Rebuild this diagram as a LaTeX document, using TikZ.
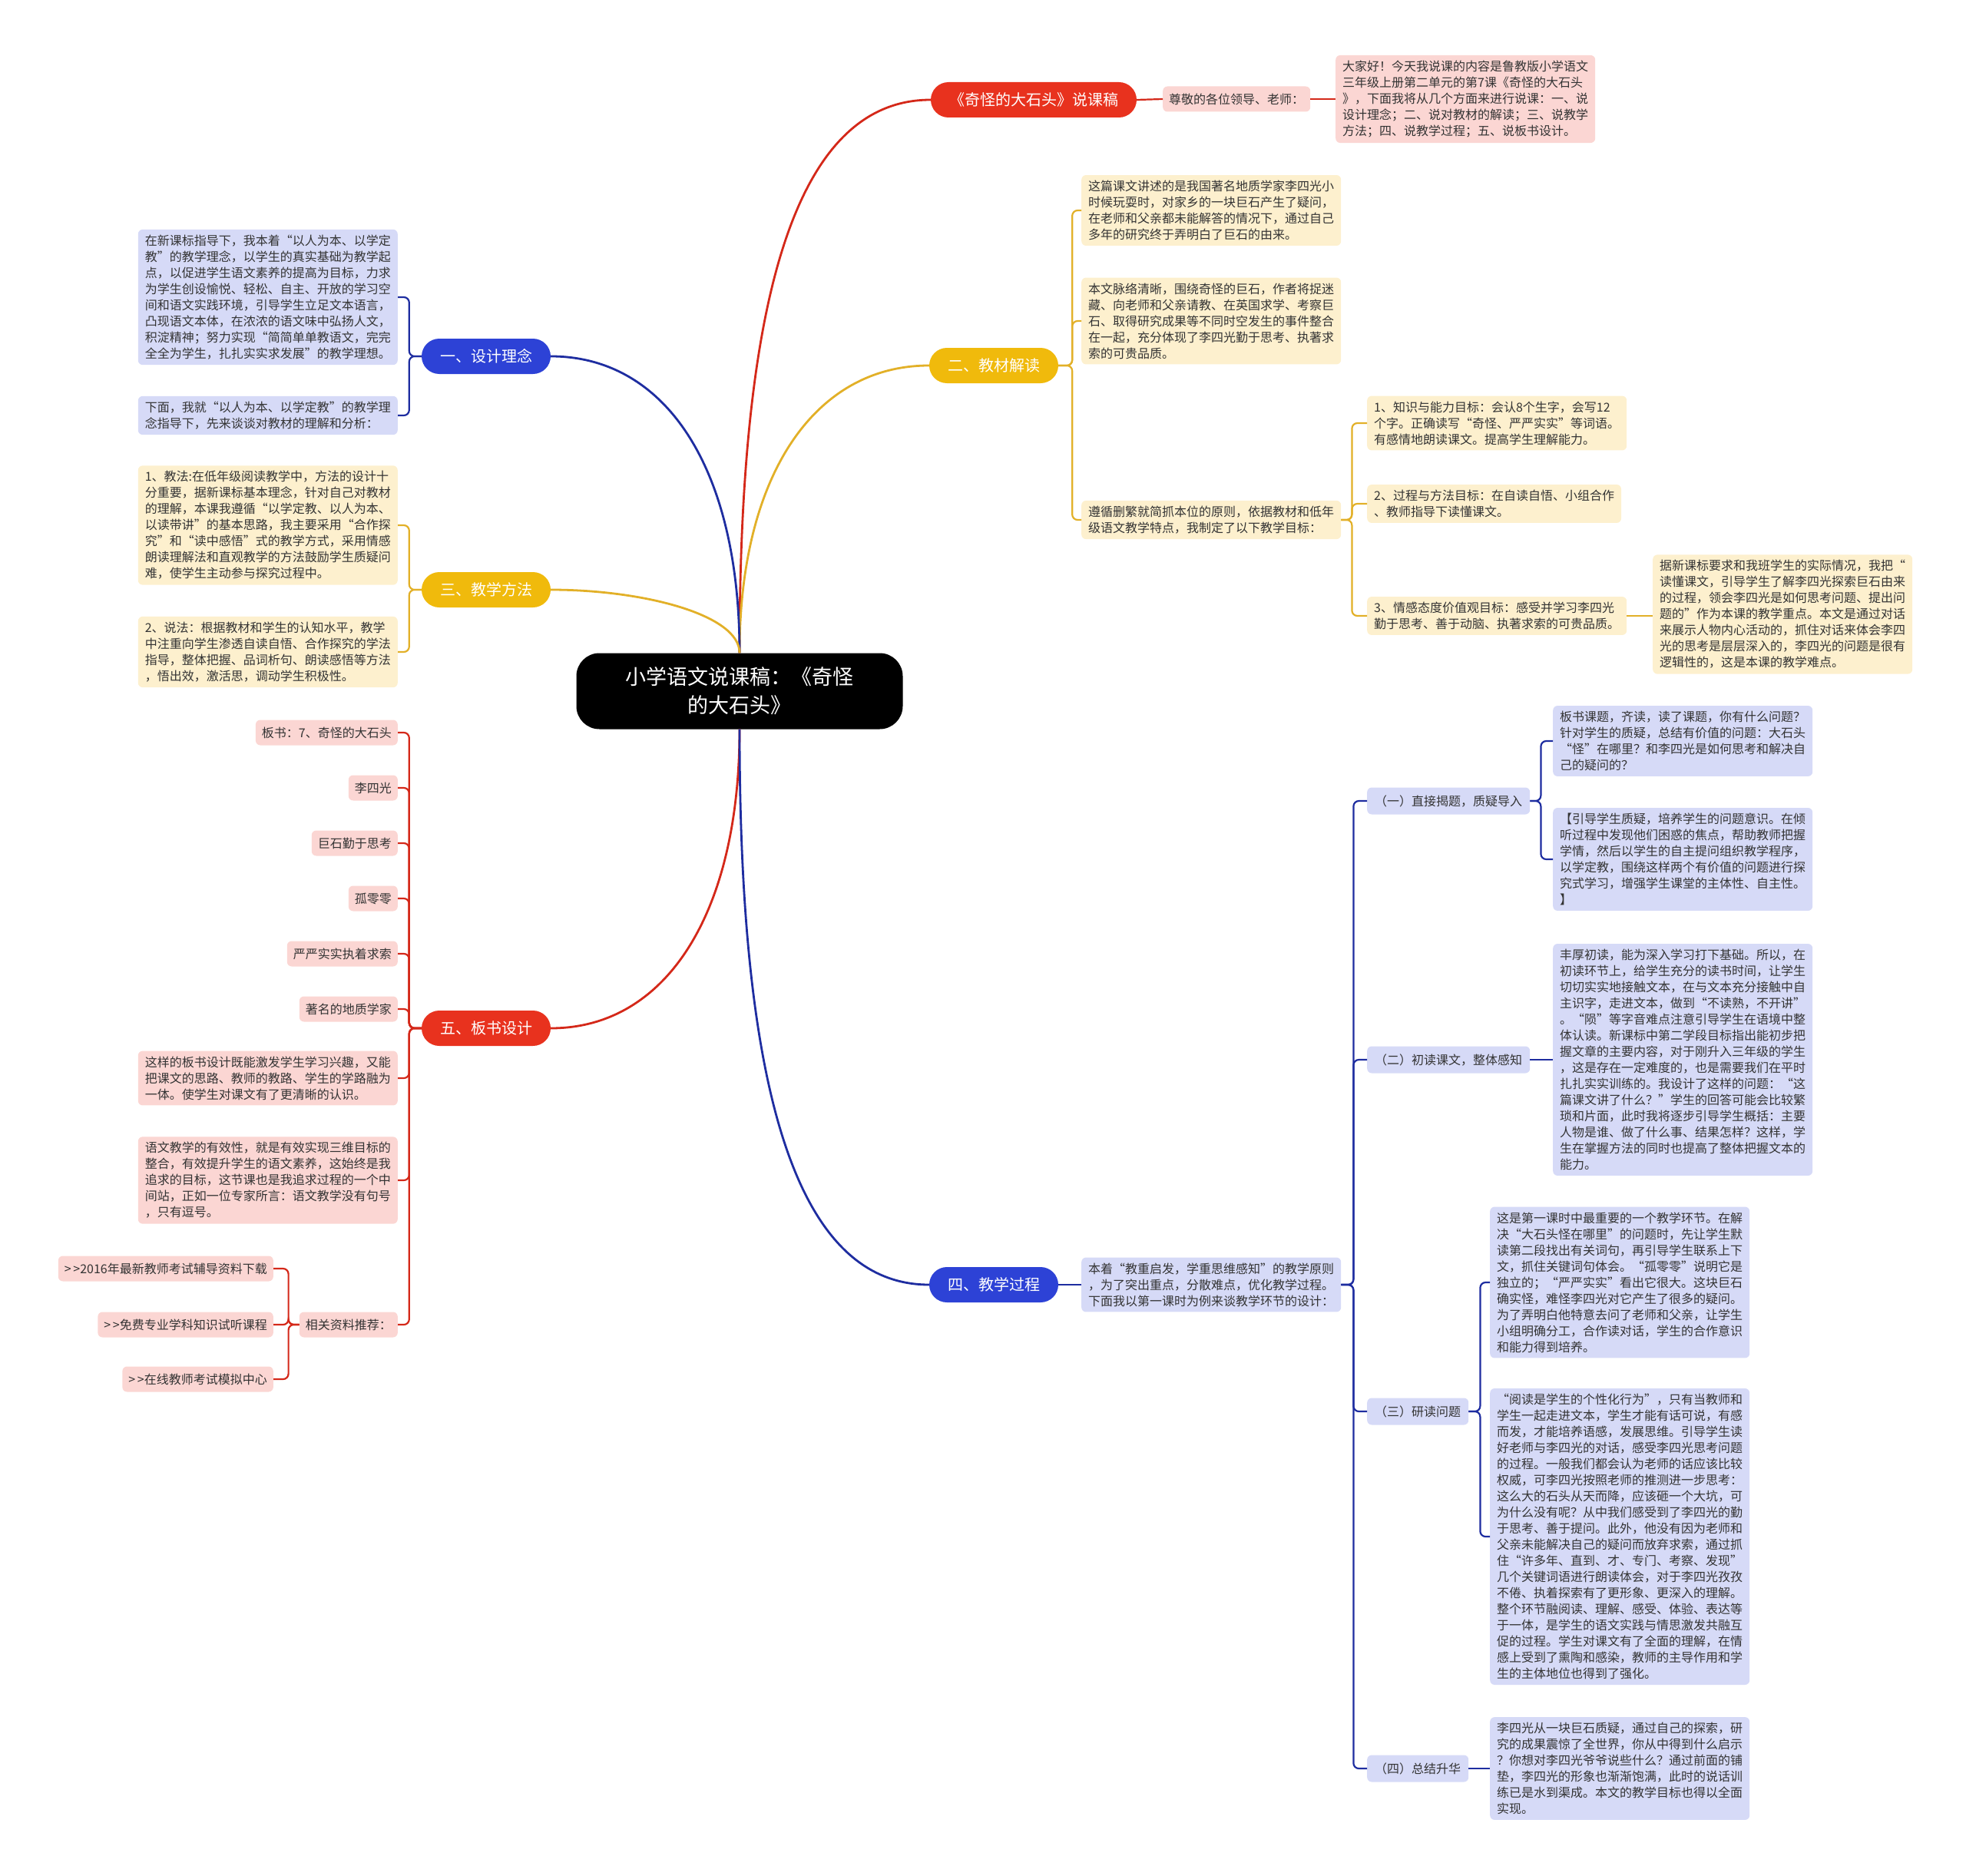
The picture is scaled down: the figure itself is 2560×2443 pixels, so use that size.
\documentclass[tikz,border=0pt]{standalone}
\usepackage{fontspec}
\setmainfont{Noto Sans CJK SC}
\usepackage{tikz}
\usetikzlibrary{positioning, calc}
\definecolor{mapred}{RGB}{232, 50, 30}
\definecolor{mapblue}{RGB}{45, 66, 214}
\definecolor{mapgold}{RGB}{240, 186, 12}
\definecolor{pinkfill}{RGB}{251, 214, 211}
\definecolor{bluefill}{RGB}{214, 218, 247}
\definecolor{goldfill}{RGB}{253, 240, 206}
\definecolor{redline}{RGB}{212, 40, 25}
\definecolor{blueline}{RGB}{30, 45, 160}
\definecolor{goldline}{RGB}{226, 176, 40}
\definecolor{inktext}{RGB}{51, 51, 51}

\begin{document}
\begin{tikzpicture}[x=1pt, y=1pt,
    box/.style={rounded corners=6pt, inner xsep=9pt, inner ysep=7pt, align=left,
                text=inktext, font=\fontsize{16}{21}\selectfont},
    pinkbox/.style={box, fill=pinkfill},
    bluebox/.style={box, fill=bluefill},
    goldbox/.style={box, fill=goldfill},
    branch/.style={rounded corners=23pt, minimum height=46pt, inner xsep=24pt,
                   text=white, font=\fontsize{20}{24}\selectfont},
    midnode/.style={box, fill=bluefill, minimum height=35pt, inner xsep=10pt},
    leafnode/.style={box, fill=pinkfill, minimum height=33pt, inner xsep=8pt},
    trunk/.style={line width=2.2pt, rounded corners=7pt},
    mainline/.style={line width=2.8pt}]
    \useasboundingbox (0,0) rectangle (2560,-2443);
    % Central topic
    \node[fill=black, text=white, rounded corners=30pt, minimum width=425pt,
          minimum height=99pt, align=center, font=\fontsize{27}{37}\selectfont]
          (root) at (963,-900) {小学语文说课稿：《奇怪\\的大石头》};

    % Title branch
    \node[branch, fill=mapred] (title) at (1346,-130) {《奇怪的大石头》说课稿};
    \node[leafnode, anchor=west] (greet) at (1514,-129) {尊敬的各位领导、老师：};
    \node[pinkbox, anchor=west] (intro) at (1739,-129)
        {大家好！今天我说课的内容是鲁教版小学语文\\
         三年级上册第二单元的第7课《奇怪的大石头\\
         》，下面我将从几个方面来进行说课：一、说\\
         设计理念；二、说对教材的解读；三、说教学\\
         方法；四、说教学过程；五、说板书设计。};

    % Branch two
    \node[branch, fill=mapgold] (jc) at (1294,-476) {二、教材解读};
    \node[goldbox, anchor=west] (jc1) at (1408,-274)
        {这篇课文讲述的是我国著名地质学家李四光小\\
         时候玩耍时，对家乡的一块巨石产生了疑问，\\
         在老师和父亲都未能解答的情况下，通过自己\\
         多年的研究终于弄明白了巨石的由来。};
    \node[goldbox, anchor=west] (jc2) at (1408,-418)
        {本文脉络清晰，围绕奇怪的巨石，作者将捉迷\\
         藏、向老师和父亲请教、在英国求学、考察巨\\
         石、取得研究成果等不同时空发生的事件整合\\
         在一起，充分体现了李四光勤于思考、执著求\\
         索的可贵品质。};
    \node[goldbox, anchor=west] (jc3) at (1408,-677)
        {遵循删繁就简抓本位的原则，依据教材和低年\\
         级语文教学特点，我制定了以下教学目标：};
    \node[goldbox, anchor=west] (mb1) at (1780,-551)
        {1、知识与能力目标：会认8个生字，会写12\\
         个字。正确读写“奇怪、严严实实”等词语。\\
         有感情地朗读课文。提高学生理解能力。};
    \node[goldbox, anchor=west] (mb2) at (1780,-656)
        {2、过程与方法目标：在自读自悟、小组合作\\
         、教师指导下读懂课文。};
    \node[goldbox, anchor=west] (mb3) at (1780,-802)
        {3、情感态度价值观目标：感受并学习李四光\\
         勤于思考、善于动脑、执著求索的可贵品质。};
    \node[goldbox, anchor=west] (mb4) at (2152,-800)
        {据新课标要求和我班学生的实际情况，我把“\\
         读懂课文，引导学生了解李四光探索巨石由来\\
         的过程，领会李四光是如何思考问题、提出问\\
         题的”作为本课的教学重点。本文是通过对话\\
         来展示人物内心活动的，抓住对话来体会李四\\
         光的思考是层层深入的，李四光的问题是很有\\
         逻辑性的，这是本课的教学难点。};

    % Branch one
    \node[branch, fill=mapblue] (sj) at (633,-464) {一、设计理念};
    \node[bluebox, anchor=east] (sj1) at (518,-387)
        {在新课标指导下，我本着“以人为本、以学定\\
         教”的教学理念，以学生的真实基础为教学起\\
         点，以促进学生语文素养的提高为目标，力求\\
         为学生创设愉悦、轻松、自主、开放的学习空\\
         间和语文实践环境，引导学生立足文本语言，\\
         凸现语文本体，在浓浓的语文味中弘扬人文，\\
         积淀精神；努力实现“简简单单教语文，完完\\
         全全为学生，扎扎实实求发展”的教学理想。};
    \node[bluebox, anchor=east] (sj2) at (518,-541)
        {下面，我就“以人为本、以学定教”的教学理\\
         念指导下，先来谈谈对教材的理解和分析：};

    % Branch three
    \node[branch, fill=mapgold] (ff) at (633,-768) {三、教学方法};
    \node[goldbox, anchor=east] (ff1) at (518,-684)
        {1、教法:在低年级阅读教学中，方法的设计十\\
         分重要，据新课标基本理念，针对自己对教材\\
         的理解，本课我遵循“以学定教、以人为本、\\
         以读带讲”的基本思路，我主要采用“合作探\\
         究”和“读中感悟”式的教学方式，采用情感\\
         朗读理解法和直观教学的方法鼓励学生质疑问\\
         难，使学生主动参与探究过程中。};
    \node[goldbox, anchor=east] (ff2) at (518,-849)
        {2、说法：根据教材和学生的认知水平，教学\\
         中注重向学生渗透自读自悟、合作探究的学法\\
         指导，整体把握、品词析句、朗读感悟等方法\\
         ，悟出效，激活思，调动学生积极性。};

    % Branch five
    \node[branch, fill=mapred] (bs) at (633,-1339) {五、板书设计};
    \node[leafnode, anchor=east] (bs1) at (518,-954) {板书：7、奇怪的大石头};
    \node[leafnode, anchor=east] (bs2) at (518,-1026) {李四光};
    \node[leafnode, anchor=east] (bs3) at (518,-1098) {巨石勤于思考};
    \node[leafnode, anchor=east] (bs4) at (518,-1170) {孤零零};
    \node[leafnode, anchor=east] (bs5) at (518,-1242) {严严实实执着求索};
    \node[leafnode, anchor=east] (bs6) at (518,-1314) {著名的地质学家};
    \node[pinkbox, anchor=east] (bs7) at (518,-1404)
        {这样的板书设计既能激发学生学习兴趣，又能\\
         把课文的思路、教师的教路、学生的学路融为\\
         一体。使学生对课文有了更清晰的认识。};
    \node[pinkbox, anchor=east] (bs8) at (518,-1537)
        {语文教学的有效性，就是有效实现三维目标的\\
         整合，有效提升学生的语文素养，这始终是我\\
         追求的目标，这节课也是我追求过程的一个中\\
         间站，正如一位专家所言：语文教学没有句号\\
         ，只有逗号。};
    \node[leafnode, anchor=east] (bs9) at (518,-1725) {相关资料推荐：};
    \node[leafnode, anchor=east] (zl1) at (356,-1652) {>\,>2016年最新教师考试辅导资料下载};
    \node[leafnode, anchor=east] (zl2) at (356,-1725) {>\,>免费专业学科知识试听课程};
    \node[leafnode, anchor=east] (zl3) at (356,-1796) {>\,>在线教师考试模拟中心};

    % Branch four
    \node[branch, fill=mapblue] (jg) at (1294,-1673) {四、教学过程};
    \node[bluebox, anchor=west] (bz) at (1408,-1673)
        {本着“教重启发，学重思维感知”的教学原则\\
         ，为了突出重点，分散难点，优化教学过程。\\
         下面我以第一课时为例来谈教学环节的设计：};
    \node[midnode, anchor=west] (s1) at (1780,-1043) {（一）直接揭题，质疑导入};
    \node[bluebox, anchor=west] (s1a) at (2022,-965)
        {板书课题，齐读，读了课题，你有什么问题？\\
         针对学生的质疑，总结有价值的问题：大石头\\
         “怪”在哪里？和李四光是如何思考和解决自\\
         己的疑问的？};
    \node[bluebox, anchor=west] (s1b) at (2022,-1119)
        {【引导学生质疑，培养学生的问题意识。在倾\\
         听过程中发现他们困惑的焦点，帮助教师把握\\
         学情，然后以学生的自主提问组织教学程序，\\
         以学定教，围绕这样两个有价值的问题进行探\\
         究式学习，增强学生课堂的主体性、自主性。\\
         】};
    \node[midnode, anchor=west] (s2) at (1780,-1380) {（二）初读课文，整体感知};
    \node[bluebox, anchor=west] (s2a) at (2022,-1380)
        {丰厚初读，能为深入学习打下基础。所以，在\\
         初读环节上，给学生充分的读书时间，让学生\\
         切切实实地接触文本，在与文本充分接触中自\\
         主识字，走进文本，做到“不读熟，不开讲”\\
         。“陨”等字音难点注意引导学生在语境中整\\
         体认读。新课标中第二学段目标指出能初步把\\
         握文章的主要内容，对于刚升入三年级的学生\\
         ，这是存在一定难度的，也是需要我们在平时\\
         扎扎实实训练的。我设计了这样的问题：“这\\
         篇课文讲了什么？”学生的回答可能会比较繁\\
         琐和片面，此时我将逐步引导学生概括：主要\\
         人物是谁、做了什么事、结果怎样？这样，学\\
         生在掌握方法的同时也提高了整体把握文本的\\
         能力。};
    \node[midnode, anchor=west] (s3) at (1780,-1838) {（三）研读问题};
    \node[bluebox, anchor=west] (s3a) at (1940,-1670)
        {这是第一课时中最重要的一个教学环节。在解\\
         决“大石头怪在哪里”的问题时，先让学生默\\
         读第二段找出有关词句，再引导学生联系上下\\
         文，抓住关键词句体会。“孤零零”说明它是\\
         独立的；“严严实实”看出它很大。这块巨石\\
         确实怪，难怪李四光对它产生了很多的疑问。\\
         为了弄明白他特意去问了老师和父亲，让学生\\
         小组明确分工，合作读对话，学生的合作意识\\
         和能力得到培养。};
    \node[bluebox, anchor=west] (s3b) at (1940,-2001)
        {“阅读是学生的个性化行为”，只有当教师和\\
         学生一起走进文本，学生才能有话可说，有感\\
         而发，才能培养语感，发展思维。引导学生读\\
         好老师与李四光的对话，感受李四光思考问题\\
         的过程。一般我们都会认为老师的话应该比较\\
         权威，可李四光按照老师的推测进一步思考：\\
         这么大的石头从天而降，应该砸一个大坑，可\\
         为什么没有呢？从中我们感受到了李四光的勤\\
         于思考、善于提问。此外，他没有因为老师和\\
         父亲未能解决自己的疑问而放弃求索，通过抓\\
         住“许多年、直到、才、专门、考察、发现”\\
         几个关键词语进行朗读体会，对于李四光孜孜\\
         不倦、执着探索有了更形象、更深入的理解。\\
         整个环节融阅读、理解、感受、体验、表达等\\
         于一体，是学生的语文实践与情思激发共融互\\
         促的过程。学生对课文有了全面的理解，在情\\
         感上受到了熏陶和感染，教师的主导作用和学\\
         生的主体地位也得到了强化。};
    \node[midnode, anchor=west] (s4) at (1780,-2303) {（四）总结升华};
    \node[bluebox, anchor=west] (s4a) at (1940,-2303)
        {李四光从一块巨石质疑，通过自己的探索，研\\
         究的成果震惊了全世界，你从中得到什么启示\\
         ？你想对李四光爷爷说些什么？通过前面的铺\\
         垫，李四光的形象也渐渐饱满，此时的说话训\\
         练已是水到渠成。本文的教学目标也得以全面\\
         实现。};

    % Main curves from the central topic
    \draw[mainline, redline] (root.north) .. controls +(0,450) and +(-180,0) .. (title.west);
    \draw[mainline, goldline] (root.north) .. controls +(0,230) and +(-150,0) .. (jc.west);
    \draw[mainline, blueline] (root.north) .. controls +(0,240) and +(150,0) .. (sj.east);
    \draw[mainline, goldline] (root.north) .. controls +(0,50) and +(120,0) .. (ff.east);
    \draw[mainline, redline] (root.south) .. controls +(0,-240) and +(150,0) .. (bs.east);
    \draw[mainline, blueline] (root.south) .. controls +(0,-450) and +(-180,0) .. (jg.west);

    % Sub connectors
    \draw[trunk, redline] (title.east) -- (greet.west);
    \draw[trunk, redline] (greet.east) -- (intro.west);
    \foreach \c in {jc1,jc2,jc3}
        \draw[trunk, goldline] (jc.east) -- ++(18,0) |- (\c.west);
    \foreach \c in {mb1,mb2,mb3}
        \draw[trunk, goldline] (jc3.east) -- ++(14,0) |- (\c.west);
    \draw[trunk, goldline] (mb3.east) -- (mb3.east -| mb4.west);
    \foreach \c in {sj1,sj2}
        \draw[trunk, blueline] (sj.west) -- ++(-16,0) |- (\c.east);
    \foreach \c in {ff1,ff2}
        \draw[trunk, goldline] (ff.west) -- ++(-16,0) |- (\c.east);
    \foreach \c in {bs1,bs2,bs3,bs4,bs5,bs6,bs7,bs8,bs9}
        \draw[trunk, redline] (bs.west) -- ++(-16,0) |- (\c.east);
    \foreach \c in {zl1,zl2,zl3}
        \draw[trunk, redline] (bs9.west) -- ++(-14,0) |- (\c.east);
    \draw[trunk, blueline] (jg.east) -- (bz.west);
    \foreach \c in {s1,s2,s3,s4}
        \draw[trunk, blueline] (bz.east) -- ++(16,0) |- (\c.west);
    \foreach \c in {s1a,s1b}
        \draw[trunk, blueline] (s1.east) -- ++(14,0) |- (\c.west);
    \draw[trunk, blueline] (s2.east) -- (s2a.west);
    \foreach \c in {s3a,s3b}
        \draw[trunk, blueline] (s3.east) -- ++(15,0) |- (\c.west);
    \draw[trunk, blueline] (s4.east) -- (s4a.west);
\end{tikzpicture}
\end{document}
